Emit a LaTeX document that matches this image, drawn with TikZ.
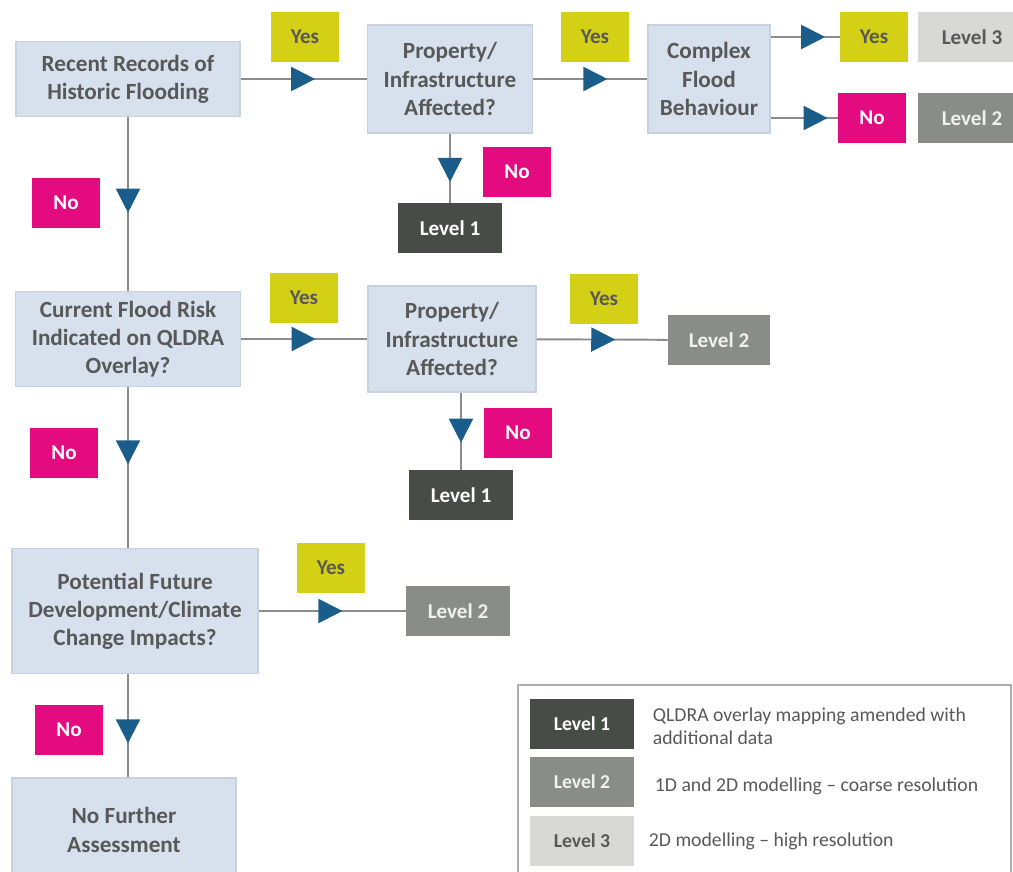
\documentclass[tikz,border=0pt]{standalone}
\usepackage{fontspec}
\setmainfont{Carlito}
\usetikzlibrary{arrows.meta,decorations.markings}
\definecolor{qblue}{RGB}{215,225,237}
\definecolor{qedge}{RGB}{198,210,224}
\definecolor{yesyel}{RGB}{212,208,22}
\definecolor{nopink}{RGB}{228,10,128}
\definecolor{lvdark}{RGB}{72,76,71}
\definecolor{lvmid}{RGB}{137,140,137}
\definecolor{lvlight}{RGB}{216,216,213}
\definecolor{txtgray}{RGB}{88,88,88}
\definecolor{linkgray}{RGB}{140,140,140}
\definecolor{tipblue}{RGB}{26,92,138}
\tikzset{
  qbox/.style={fill=qblue,draw=qedge,line width=.8pt,text=txtgray,align=center,inner sep=0pt,
    font=\fontsize{16.5}{20}\selectfont\bfseries},
  tagbox/.style={minimum width=1.7cm,minimum height=1.25cm,inner sep=0pt,font=\fontsize{15}{18}\selectfont\bfseries},
  yesbox/.style={tagbox,fill=yesyel,text=txtgray},
  nobox/.style={tagbox,fill=nopink,text=white},
  lvbox/.style={minimum width=2.575cm,minimum height=1.25cm,inner sep=0pt,font=\fontsize{15}{18}\selectfont\bfseries},
  lvone/.style={lvbox,fill=lvdark,text=white},
  lvtwo/.style={lvbox,fill=lvmid,text=white!88!lvmid},
  lvthree/.style={lvbox,fill=lvlight,text=txtgray},
  link/.style={draw=linkgray,line width=1.4pt},
  tipat/.style={postaction={decorate},decoration={markings,
    mark=at position #1 with {\arrow{Triangle[length=.6cm,width=.6cm,color=tipblue]}}}},
  keytext/.style={anchor=west,align=left,text=txtgray,font=\fontsize{14}{16.5}\selectfont},
}
\begin{document}
\begin{tikzpicture}[x=.025cm,y=-.025cm]
		\clip (0,0) rectangle (1013,872);
		% first question
		\node[qbox,minimum width=5.6cm,minimum height=1.875cm] (rec) at (128,79) {Recent Records of\\Historic Flooding};
		\node[qbox,minimum width=4.125cm,minimum height=2.7cm] (propa) at (450,79) {Property/\\Infrastructure\\Affected?};
		\node[qbox,minimum width=3.05cm,minimum height=2.7cm] (cfb) at (709,79) {Complex\\Flood\\Behaviour};
		\node[yesbox] (yesa) at (305,37) {Yes};
		\node[yesbox] (yesb) at (595,37) {Yes};
		\node[yesbox] (yesc) at (874,37) {Yes};
		\node[lvthree,minimum width=2.7cm] (lvc) at (972,37) {Level 3};
		\node[nobox] (noc) at (872,118) {No};
		\node[lvtwo,minimum width=2.7cm] (lvd) at (972,118) {Level 2};
		\node[nobox] (noa) at (517,172) {No};
		\node[lvone] (lva) at (450,228) {Level 1};
		\node[nobox] (nob) at (66,203) {No};
		\draw[link,tipat=.59] (rec) -- (propa);
		\draw[link,tipat=.65] (propa) -- (cfb);
		\draw[link,tipat=.79] (cfb.east |- yesc) -- (yesc);
		\draw[link,tipat=.85] (cfb.east |- noc) -- (noc);
		\draw[link,tipat=.7] (propa) -- (lva);
		% second question
		\node[qbox,minimum width=5.625cm,minimum height=2.375cm] (cur) at (128,339) {Current Flood Risk\\Indicated on QLDRA\\Overlay?};
		\node[qbox,minimum width=4.2cm,minimum height=2.65cm] (propb) at (452,339) {Property/\\Infrastructure\\Affected?};
		\node[yesbox] (yesd) at (304,298) {Yes};
		\node[yesbox] (yese) at (604,299) {Yes};
		\node[lvtwo,minimum width=2.55cm] (lve) at (719,340) {Level 2};
		\node[nobox] (nod) at (518,433) {No};
		\node[lvone] (lvf) at (461,495) {Level 1};
		\node[nobox] (noe) at (64,453) {No};
		\draw[link,tipat=.55] (rec) -- (cur);
		\draw[link,tipat=.59] (cur) -- (propb);
		\draw[link,tipat=.6] (propb) -- (lve);
		\draw[link,tipat=.65] (lvf.north |- propb.south) -- (lvf);
		% third question
		\node[qbox,minimum width=6.15cm,minimum height=3.125cm] (pfd) at (135,611) {Potential Future\\Development/Climate\\Change Impacts?};
		\node[yesbox] (yesf) at (331,568) {Yes};
		\node[lvtwo,minimum width=2.6cm] (lvg) at (458,611) {Level 2};
		\node[nobox] (nof) at (69,730) {No};
		\node[qbox,minimum width=5.6cm,minimum height=2.6cm] (nfa) at (124,830) {No Further\\Assessment};
		\draw[link,tipat=.48] (cur) -- (cur.south |- pfd.north);
		\draw[link,tipat=.57] (pfd) -- (lvg);
		\draw[link,tipat=.67] (cur.south |- pfd.south) -- (cur.south |- nfa.north);
		% key
		\draw[linkgray!70,line width=.8pt] (518,685) rectangle (1011,900);
		\node[lvone,font=\fontsize{14}{17}\selectfont\bfseries] (kone) at (582,724) {Level 1};
		\node[lvtwo,font=\fontsize{14}{17}\selectfont\bfseries] (ktwo) at (582,782) {Level 2};
		\node[lvthree,font=\fontsize{14}{17}\selectfont\bfseries] (kthree) at (582,841) {Level 3};
		\node[keytext] (tone) at (648,726) {QLDRA overlay mapping amended with\\additional data};
		\node[keytext] (ttwo) at (650,786) {1D and 2D modelling – coarse resolution};
		\node[keytext] (tthree) at (644,841) {2D modelling – high resolution};
\end{tikzpicture}
\end{document}
